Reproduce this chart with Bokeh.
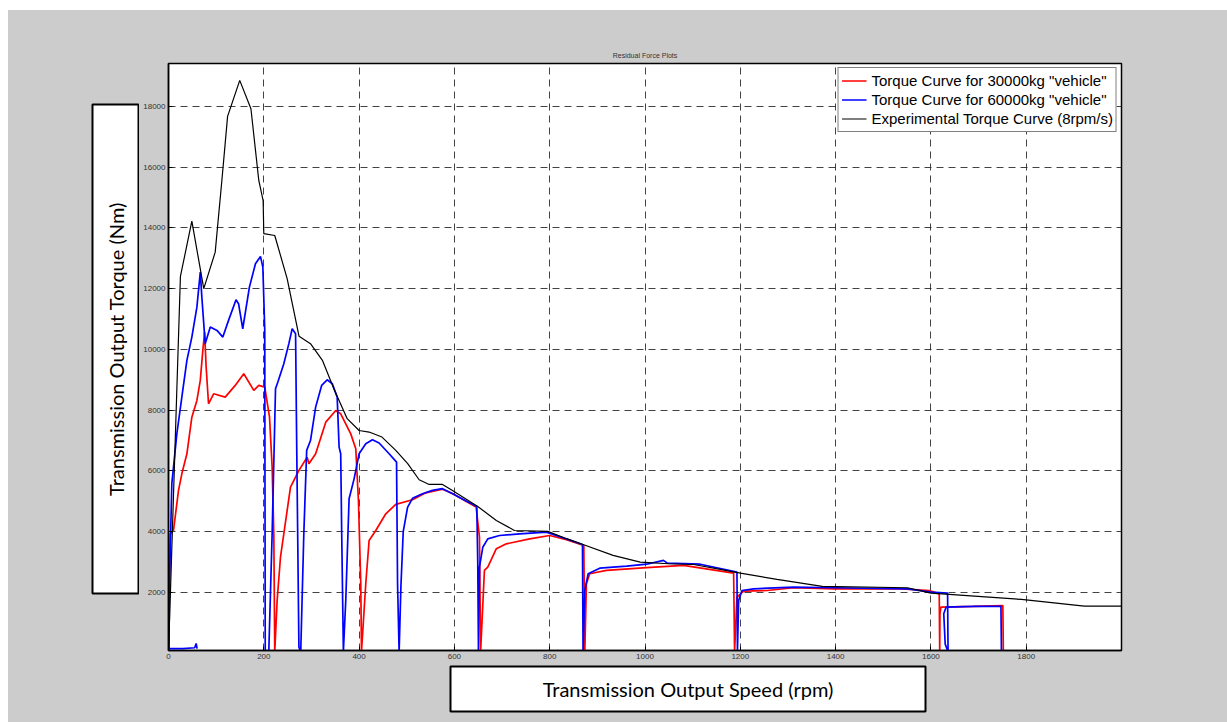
import math
from bokeh.plotting import figure
from bokeh.layouts import row, column
from bokeh.models import Range1d, Legend, LegendItem, Label, FixedTicker, BoxAnnotation
from bokeh.embed import file_html
from bokeh.resources import INLINE

# ---- data ----
x_ticks = [0, 200, 400, 600, 800, 1000, 1200, 1400, 1600, 1800]
y_ticks = [2000, 4000, 6000, 8000, 10000, 12000, 14000, 16000, 18000]

exp_x = [0, 25, 49, 74, 98, 112, 124, 149.5, 173, 189.5, 198.6, 200, 223, 249, 274, 298, 323, 347,
         375, 400, 421, 448, 477, 502, 526, 547, 575, 596, 649, 688, 726, 796, 835, 870, 933, 990,
         1050, 1102, 1200, 1277, 1372, 1551, 1600, 1790, 1922, 2000]
exp_y = [0, 12400, 14220, 12000, 13200, 15560, 17670, 18855, 17920, 15560, 14900, 13810, 13750, 12330,
         10430, 10190, 9640, 8705, 7720, 7330, 7280, 7115, 6675, 6240, 5710, 5555, 5555, 5358, 4830,
         4370, 4040, 4010, 3770, 3580, 3220, 3000, 2945, 2920, 2637, 2430, 2198, 2155, 1980, 1770,
         1550, 1550]

t60_x = [1, 2, 7, 17.5, 28, 38.6, 49, 59.6, 66.7, 70, 77, 87.7, 101.7, 114, 126, 141.7, 147, 155.8,
         169.8, 182.5, 193, 198, 202, 203, 210.5, 217.5, 224.6, 229.5, 242, 252.6, 259.6, 266.7,
         268.8, 273.7, 277.5, 284, 290, 298, 308.8, 321.4, 333, 343.8, 354, 358, 361.4, 363.5, 367,
         372, 379, 389.5, 400, 414, 428, 442, 463, 478.6, 480.7, 484, 487.7, 492.6, 501.7, 512, 533,
         554, 575, 596.5, 624.6, 647, 649, 650.5, 652.6, 659.6, 670, 694.7, 736.8, 793, 835, 868.8,
         870, 873.7, 880.7, 905, 961.4, 1003.6, 1038.6, 1047, 1116, 1193, 1194, 1196.5, 1203.5, 1228,
         1312, 1396.5, 1551, 1600, 1635, 1636, 1630, 1627, 1632, 1690, 1747, 1748]
t60_y = [100, 2285, 5580, 7220, 8430, 9640, 10405, 11390, 12545, 11720, 10190, 10735, 10625, 10405,
         10955, 11635, 11505, 10680, 12050, 12820, 13060, 12710, 10625, 100, 50, 3930, 8705, 8925,
         9530, 10190, 10680, 10515, 7220, 200, 50, 3940, 6675, 7000, 8100, 8815, 9000, 8870, 8430,
         6785, 6565, 3930, 50, 1735, 5085, 5740, 6565, 6895, 7025, 6920, 6565, 6290, 2285, 50, 2175,
         4000, 4800, 5100, 5250, 5360, 5415, 5250, 5010, 4830, 3000, 50, 2835, 3490, 3765, 3875,
         3930, 3985, 3765, 3580, 50, 2065, 2615, 2800, 2870, 2930, 3055, 2965, 2930, 2670, 50, 1735,
         2065, 2120, 2175, 2155, 2120, 2010, 1980, 50, 300, 1300, 1520, 1545, 1545, 50]

t60_start_x = [0, 30, 55, 58, 60]
t60_start_y = [150, 150, 180, 320, 150]

t30_x = [0, 1, 3.5, 10.5, 21, 28, 38.6, 49, 59.6, 66.7, 72, 75.8, 79, 84, 94.7, 119, 140, 158, 179,
         189.5, 202, 212, 217.5, 221, 223, 228, 235, 244, 256, 273.7, 291, 294.7, 308.8, 330, 351,
         361.4, 382.5, 393, 398.6, 403.5, 405, 414, 421, 435, 456, 477, 512, 540, 575, 596.5, 645.6,
         652.6, 655, 663, 670, 688, 709, 758, 800, 835, 871.6, 873.7, 877, 884, 919, 1003.6, 1080.7,
         1186, 1188, 1193, 1207, 1256, 1312, 1396.5, 1537, 1596.5, 1617.5, 1618.5, 1619, 1621, 1690,
         1751, 1752]
t30_y = [0, 1500, 3930, 4040, 5360, 5905, 6565, 7770, 8320, 8980, 9965, 10570, 9420, 8210, 8540, 8430,
         8815, 9200, 8650, 8815, 8760, 7770, 6125, 3930, 50, 1735, 3160, 4150, 5465, 6015, 6455, 6235,
         6565, 7605, 7990, 7880, 7220, 6730, 5030, 2285, 50, 2285, 3710, 4040, 4590, 4900, 5050, 5280,
         5400, 5250, 4810, 3820, 50, 2725, 2835, 3440, 3600, 3765, 3875, 3735, 3545, 50, 2285, 2615,
         2725, 2820, 2890, 2637, 50, 1845, 2045, 2065, 2155, 2120, 2120, 2065, 1955, 50, 1300, 1515,
         1540, 1570, 50]

title_text = "Residual Force Plots"
x_label = "Transmission Output Speed (rpm)"
y_label = "Transmission Output Torque (Nm)"
legend_labels = ['Torque Curve for 30000kg "vehicle"',
                 'Torque Curve for 60000kg "vehicle"',
                 'Experimental Torque Curve (8rpm/s)']

GRAY = "#cccccc"
TOP, BOT = 53, 14          # main frame borders (inside the 10px top page strip)
MAIN_H = 654

# ---- main figure ----
p = figure(width=1088, height=MAIN_H, output_backend="svg", toolbar_location=None,
           x_range=Range1d(0, 2000), y_range=Range1d(90, 19410),
           min_border_left=29, min_border_right=106, min_border_top=TOP, min_border_bottom=BOT,
           title=title_text)
p.border_fill_color = GRAY
p.background_fill_color = "white"
p.outline_line_color = "black"
p.outline_line_width = 1.5

p.title.align = "center"
p.title.text_font = "Liberation Sans"
p.title.text_font_size = "7px"
p.title.text_font_style = "normal"
p.title.text_color = "#333333"
p.title.standoff = 9

for ax, ticks in ((p.xaxis[0], x_ticks), (p.yaxis[0], y_ticks)):
    ax.ticker = FixedTicker(ticks=ticks)
    ax.major_label_text_font = "Liberation Sans"
    ax.major_label_text_font_size = "8px"
    ax.major_label_text_color = "#333333"
    ax.major_tick_in = 4
    ax.major_tick_out = 0
    ax.minor_tick_line_color = None
    ax.axis_line_width = 1.5
    ax.axis_line_color = "black"
    ax.major_tick_line_color = "black"
    ax.major_label_standoff = 3

for g in (p.xgrid[0], p.ygrid[0]):
    g.grid_line_color = "#222222"
    g.grid_line_dash = "7 5"
    g.grid_line_width = 1
    g.grid_line_alpha = 0.85

r30 = p.line(t30_x, t30_y, line_color="#ff0000", line_width=1.7)
p.line(t60_start_x, t60_start_y, line_color="#0000ff", line_width=1.7)
r60 = p.line(t60_x, t60_y, line_color="#0000ff", line_width=1.7)
rexp = p.line(exp_x, exp_y, line_color="black", line_width=1.2)

legend = Legend(items=[LegendItem(label=legend_labels[0], renderers=[r30]),
                       LegendItem(label=legend_labels[1], renderers=[r60]),
                       LegendItem(label=legend_labels[2], renderers=[rexp])],
                location="top_right")
legend.label_text_font = "Liberation Sans"
legend.label_text_font_size = "15px"
legend.label_text_color = "black"
legend.border_line_color = "black"
legend.border_line_width = 1
legend.background_fill_alpha = 1
legend.spacing = 0
legend.label_height = 19
legend.glyph_height = 19
legend.glyph_width = 25
legend.label_standoff = 5
legend.padding = 3
legend.margin = 4
p.add_layout(legend)

# ---- y title panel: its frame has the same vertical extent as the main frame ----
frame_h = MAIN_H - TOP - BOT   # 587 px
yfig = figure(width=131, height=MAIN_H, output_backend="svg", toolbar_location=None,
              x_range=Range1d(0, 51), y_range=Range1d(0, frame_h), x_axis_type=None, y_axis_type=None,
              min_border_left=80, min_border_right=0, min_border_top=TOP, min_border_bottom=BOT)
yfig.border_fill_color = GRAY
yfig.background_fill_color = GRAY
yfig.outline_line_color = None
yfig.grid.grid_line_color = None
yfig.add_layout(BoxAnnotation(left=4, right=50, bottom=57, top=546, fill_color="white", fill_alpha=1,
                              line_color="black", line_width=2, line_alpha=1))
yfig.add_layout(Label(x=27, y=301.5, text=y_label, angle=math.pi / 2, text_align="center",
                      text_baseline="middle", text_font="Lato", text_font_size="20px",
                      text_color="black"))

# ---- x title panel: its frame is the box ----
xfig = figure(width=1219, height=58, output_backend="svg", toolbar_location=None,
              x_range=Range1d(0, 1), y_range=Range1d(0, 1), x_axis_type=None, y_axis_type=None,
              min_border_left=442, min_border_right=302, min_border_top=2, min_border_bottom=11)
xfig.border_fill_color = GRAY
xfig.background_fill_color = "white"
xfig.outline_line_color = "black"
xfig.outline_line_width = 2
xfig.grid.grid_line_color = None
xfig.add_layout(Label(x=0.5, y=0.5, text=x_label, text_align="center", text_baseline="middle",
                      text_font="Lato", text_font_size="20px", text_color="black"))

layout = column(row(yfig, p, spacing=0, styles={"background-color": GRAY}), xfig, spacing=0,
                styles={"background-color": GRAY}, margin=(10, 0, 0, 8))
open("out.html", "w").write(file_html(layout, INLINE))
